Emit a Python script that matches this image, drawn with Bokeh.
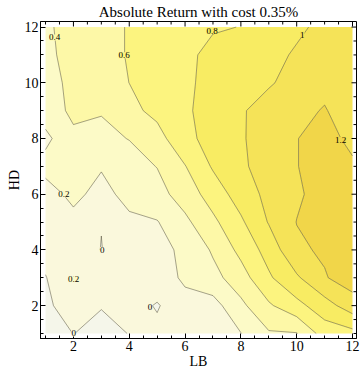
import numpy as np
from bokeh.plotting import figure
from bokeh.models import Range1d, LinearAxis, SingleIntervalTicker, Label
from bokeh.embed import file_html
from bokeh.resources import INLINE

# Grid coordinates
lb = [1, 2, 3, 4, 5, 6, 7, 8, 9, 10, 11, 12]
hd = [1, 2, 3, 4, 5, 6, 7, 8, 9, 10, 11, 12]

# Absolute return, one list per HD row (values over LB = 1..12)
hd1 = [-0.10, 0.003, -0.06, 0.005, 0.06, 0.12, 0.15, 0.195, 0.38, 0.39, 0.69, 0.74]
hd2 = [-0.04, 0.10, 0.01, 0.10, -0.02, 0.16, 0.124, 0.354, 0.572, 0.738, 0.916, 1.107]
hd3 = [-0.01, 0.205, 0.12, 0.10, 0.14, 0.22, 0.335, 0.513, 0.771, 0.971, 1.185, 1.30]
hd4 = [0.08, 0.12, -0.005, 0.12, 0.17, 0.22, 0.427, 0.655, 0.878, 1.168, 1.226, 1.32]
hd5 = [0.05, 0.13, 0.005, 0.15, 0.19, 0.356, 0.557, 0.768, 1.013, 1.204, 1.32, 1.33]
hd6 = [0.10, 0.26, 0.12, 0.28, 0.33, 0.49, 0.69, 0.892, 1.054, 1.17, 1.28, 1.31]
hd7 = [0.275, 0.27, 0.22, 0.33, 0.405, 0.592, 0.822, 0.967, 1.086, 1.195, 1.27, 1.23]
hd8 = [0.15, 0.36, 0.36, 0.405, 0.53, 0.74, 0.88, 0.98, 1.09, 1.195, 1.27, 1.15]
hd9 = [0.30, 0.44, 0.41, 0.55, 0.65, 0.77, 0.88, 0.98, 1.08, 1.16, 1.21, 1.12]
hd10 = [0.34, 0.44, 0.52, 0.601, 0.66, 0.77, 0.85, 0.92, 0.98, 1.07, 1.16, 1.10]
hd11 = [0.36, 0.46, 0.55, 0.61, 0.67, 0.775, 0.83, 0.88, 0.95, 1.02, 1.10, 1.08]
hd12 = [0.37, 0.47, 0.55, 0.61, 0.66, 0.72, 0.79, 0.802, 0.86, 0.97, 1.04, 1.06]

levels = [-0.2, 0.0, 0.2, 0.4, 0.6, 0.8, 1.0, 1.2, 1.4]
band_colors = ["#F5F6EA", "#FAF8DC", "#FCFAC7", "#FDF8A7", "#FCF47F",
               "#F8EC63", "#F5E358", "#F1D649"]

# Tick positions
major_ticks = [2, 4, 6, 8, 10, 12]
minor_ticks = [1.0, 1.5, 2.5, 3.0, 3.5, 4.5, 5.0, 5.5, 6.5, 7.0, 7.5,
               8.5, 9.0, 9.5, 10.5, 11.0, 11.5]

# Contour labels (text, LB, HD)
label_text = ["0.4", "0.6", "0.8", "1", "1.2", "0.2", "0", "0.2", "0", "0"]
label_lb = [1.33, 3.82, 6.97, 10.2, 11.57, 1.66, 3.03, 2.01, 4.74, 2.01]
label_hd = [11.63, 10.99, 11.87, 11.73, 7.95, 6.0, 4.0, 2.95, 1.96, 1.0]
label_level = [0.4, 0.6, 0.8, 1.0, 1.2, 0.2, 0.0, 0.2, 0.0, 0.0]

z = np.array([hd1, hd2, hd3, hd4, hd5, hd6, hd7, hd8, hd9, hd10, hd11, hd12])

FONT = "Liberation Serif"
FW, FH = 316, 317
X0, X1 = 0.82, 12.143
Y0, Y1 = 0.82, 12.20

p = figure(frame_width=FW, frame_height=FH,
           x_range=Range1d(X0, X1), y_range=Range1d(Y0, Y1),
           x_axis_type=None, y_axis_type=None,
           output_backend="svg", toolbar_location=None,
           min_border_left=40, min_border_right=4,
           min_border_top=21, min_border_bottom=40,
           title="Absolute Return with cost 0.35%")
p.title.text_font = FONT
p.title.text_font_size = "15px"
p.title.text_font_style = "normal"
p.title.align = "center"
p.title.standoff = 3
p.title.text_color = "#000000"
p.background_fill_color = "white"
p.border_fill_color = "white"
p.outline_line_color = "black"
p.outline_line_width = 1

p.contour(x=np.array(lb, dtype=float), y=np.array(hd, dtype=float), z=z,
          levels=levels, fill_color=band_colors,
          line_color="#3a3520", line_alpha=0.5, line_width=0.9)


def make_axis(label):
    ax = LinearAxis(ticker=SingleIntervalTicker(interval=2, num_minor_ticks=4))
    ax.major_tick_in = 5
    ax.major_tick_out = 0
    ax.minor_tick_in = 3
    ax.minor_tick_out = 0
    ax.axis_line_color = "black"
    ax.major_tick_line_color = "black"
    ax.minor_tick_line_color = "black"
    ax.major_label_text_font = FONT
    ax.major_label_text_color = "black"
    ax.major_label_text_font_size = "14px"
    ax.major_label_standoff = 2
    ax.axis_label = label
    ax.axis_label_text_font = FONT
    ax.axis_label_text_font_size = "14px"
    ax.axis_label_text_font_style = "normal"
    ax.axis_label_text_color = "black"
    ax.axis_label_standoff = 0
    return ax


p.add_layout(make_axis("LB"), "below")
p.add_layout(make_axis("HD"), "left")

# Inward ticks on the top and right frame edges
mx = 5 * (X1 - X0) / FW
my = 5 * (Y1 - Y0) / FH
nx = 3 * (X1 - X0) / FW
ny = 3 * (Y1 - Y0) / FH
p.segment(x0=major_ticks, x1=major_ticks, y0=[Y1] * len(major_ticks),
          y1=[Y1 - my] * len(major_ticks), line_color="black", line_width=1)
p.segment(x0=minor_ticks, x1=minor_ticks, y0=[Y1] * len(minor_ticks),
          y1=[Y1 - ny] * len(minor_ticks), line_color="black", line_width=1)
p.segment(x0=[X1] * len(major_ticks), x1=[X1 - mx] * len(major_ticks),
          y0=major_ticks, y1=major_ticks, line_color="black", line_width=1)
p.segment(x0=[X1] * len(minor_ticks), x1=[X1 - nx] * len(minor_ticks),
          y0=minor_ticks, y1=minor_ticks, line_color="black", line_width=1)

for t, xv, yv, lev in zip(label_text, label_lb, label_hd, label_level):
    idx = min(levels.index(lev), len(band_colors) - 1)
    p.add_layout(Label(x=xv, y=yv, text=t, text_font=FONT, text_font_size="9px",
                       text_align="center", text_baseline="middle",
                       text_color="black",
                       background_fill_color=band_colors[idx],
                       background_fill_alpha=1.0))

open("out.html", "w").write(file_html(p, INLINE))
